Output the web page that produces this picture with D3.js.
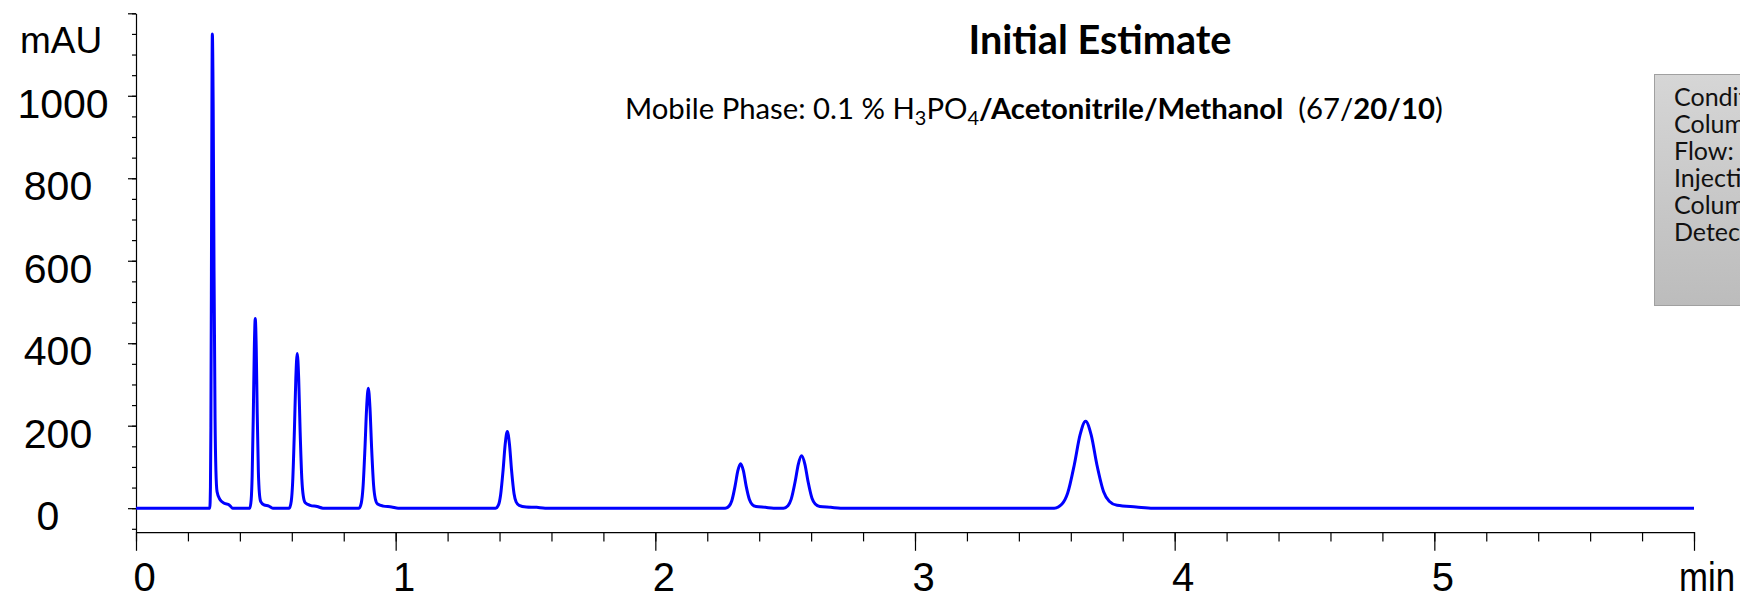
<!DOCTYPE html>
<html lang="en">
<head>
<meta charset="UTF-8" />
<title>Initial Estimate</title>
<style>
  body { margin: 0; background: #fff; }
  svg { display: block; }
  .num { font-family: 'Liberation Sans', Arial, sans-serif; fill: #000; }
  .cal { font-family: Lato, 'Open Sans', sans-serif; fill: #000; white-space: pre; }
  .axis path, .axis line { stroke: #000; stroke-width: 1.2; }
</style>
</head>
<body>
<svg id="svg" width="1740" height="596"></svg>
<script src="https://d3js.org/d3.v7.min.js"></script>
<script>
// chromatogram trace, [time (min), signal (mAU)]
const peak1 = [[0.2842,0],[0.2867,52],[0.2884,196],[0.2905,575],[0.2923,966],[0.294,1150],[0.2973,966],[0.3005,575],[0.3044,219],[0.3077,92],[0.3122,40],[0.3233,21],[0.3395,12],[0.359,8],[0.372,0]];
const peak2 = [[0.4383,0],[0.4436,21],[0.4473,78],[0.4518,230],[0.4556,386],[0.4593,460],[0.4631,386],[0.4668,230],[0.4713,87],[0.4751,37],[0.4803,16],[0.493,8],[0.5118,5],[0.5268,0]];
const peak3 = [[0.5902,0],[0.5979,17],[0.6034,64],[0.61,188],[0.6155,315],[0.621,375],[0.6265,315],[0.632,188],[0.6386,71],[0.6441,30],[0.6518,13],[0.6705,7],[0.698,4],[0.72,0]];
const peak4 = [[0.8588,0],[0.8677,13],[0.8741,49],[0.8818,146],[0.8882,244],[0.8946,291],[0.901,244],[0.9074,146],[0.9151,55],[0.9215,23],[0.9304,10],[0.9522,5],[0.9842,3],[1.0098,0]];
const peak5 = [[1.3846,0],[1.396,8],[1.4041,32],[1.4138,93],[1.4219,156],[1.43,186],[1.4381,156],[1.4462,93],[1.4559,35],[1.464,15],[1.4754,7],[1.5029,3],[1.5434,2],[1.5758,0]];
const peak6 = [[2.269,0],[2.2839,5],[2.2945,18],[2.3072,54],[2.3178,91],[2.3284,108],[2.339,91],[2.3496,54],[2.3623,21],[2.3729,9],[2.3878,4],[2.4238,2],[2.4556,0]];
const peak7 = [[2.4933,0],[2.5108,6],[2.5233,22],[2.5383,64],[2.5508,107],[2.5633,127],[2.5758,107],[2.5883,64],[2.6033,24],[2.6158,10],[2.6333,4],[2.6758,2],[2.7133,0]];
const peak8 = [[3.5358,0],[3.5661,10],[3.5877,36],[3.6137,106],[3.6354,177],[3.657,211],[3.6787,177],[3.7003,106],[3.7263,40],[3.748,17],[3.7782,7],[3.8519,3],[3.917,0]];
const runStart = [0, 0];
const runEnd = [6.0, 0];

const yLabels = [0, 200, 400, 600, 800, 1000];
const yMajor = [0, 200, 400, 600, 800, 1000, 1200];
const xLabels = [0, 1, 2, 3, 4, 5];
const xMajor = [0, 1, 2, 3, 4, 5, 6];

const conditions = ['Conditions:', 'Column:', 'Flow:', 'Injection:', 'Column temp.:', 'Detection:'];

const trace = [runStart, ...peak1, ...peak2, ...peak3, ...peak4, ...peak5, ...peak6, ...peak7, ...peak8, runEnd];

const svg = d3.select('#svg');

const x = d3.scaleLinear().domain([0, 6]).range([136, 1694]);
const y = d3.scaleLinear().domain([-58, 1200]).range([532.1, 13.3]);

// y axis: minor every 50, longer ticks every 200
svg.append('g').attr('class', 'axis').attr('transform', 'translate(136,0)')
  .call(d3.axisLeft(y).tickValues(d3.range(-50, 1201, 50)).tickSize(4).tickSizeOuter(0).tickFormat(''));
svg.append('g').attr('class', 'axis').attr('transform', 'translate(136,0)')
  .call(d3.axisLeft(y).tickValues(yMajor).tickSize(8).tickSizeOuter(0).tickFormat(''))
  .select('.domain').remove();

// x axis: minor every 0.2 min, long ticks each minute
svg.append('g').attr('class', 'axis').attr('transform', 'translate(0,532.1)')
  .call(d3.axisBottom(x).tickValues(d3.range(0, 6.01, 0.2)).tickSize(9.3).tickSizeOuter(0).tickFormat(''));
svg.append('g').attr('class', 'axis').attr('transform', 'translate(0,532.1)')
  .call(d3.axisBottom(x).tickValues(xMajor).tickSize(18.7).tickSizeOuter(0).tickFormat(''))
  .select('.domain').remove();

// labels sit a little off-centre, wider numbers further right
svg.selectAll('.ylab').data(yLabels).enter().append('text')
  .attr('class', 'num ylab')
  .attr('x', (d) => 58 + 5 * (String(d).length - 3))
  .attr('y', (d) => y(d) + 22)
  .attr('text-anchor', 'middle')
  .style('font-size', '41px')
  .text((d) => d);

svg.selectAll('.xlab').data(xLabels).enter().append('text')
  .attr('class', 'num xlab')
  .attr('x', (d) => x(d) + 8.5)
  .attr('y', 591)
  .attr('text-anchor', 'middle')
  .style('font-size', '40px')
  .text((d) => d);

svg.append('text').attr('class', 'num').attr('x', 20).attr('y', 53)
  .style('font-size', '37px').text('mAU');
svg.append('text').attr('class', 'num').attr('x', 1679).attr('y', 591)
  .attr('textLength', 56).attr('lengthAdjust', 'spacingAndGlyphs')
  .style('font-size', '40px').text('min');

// the trace
svg.append('path')
  .datum(trace)
  .attr('fill', 'none')
  .attr('stroke', '#0000ff')
  .attr('stroke-width', 3)
  .attr('stroke-linejoin', 'round')
  .attr('d', d3.line().x((d) => x(d[0])).y((d) => y(d[1])).curve(d3.curveMonotoneX));

// scale a text's font so it takes the width it has in the picture
function fit(t, w, start) {
  t.style('font-size', start + 'px');
  const bw = t.node().getComputedTextLength();
  t.style('font-size', (start * w) / bw + 'px');
}

const title = svg.append('text').attr('class', 'cal')
  .attr('x', 1100).attr('y', 54).attr('text-anchor', 'middle')
  .style('font-weight', 'bold').text('Initial Estimate');
fit(title, 263, 38);

const sub = svg.append('text').attr('class', 'cal').attr('x', 625).attr('y', 119);
sub.append('tspan').text('Mobile Phase: 0.1 % H');
sub.append('tspan').style('font-size', '0.68em').attr('dy', '0.3em').text('3');
sub.append('tspan').attr('dy', '-0.204em').text('PO');
sub.append('tspan').style('font-size', '0.68em').attr('dy', '0.3em').text('4');
sub.append('tspan').attr('dy', '-0.204em').style('font-weight', 'bold').text('/Acetonitrile/Methanol');
sub.append('tspan').text('  (67/');
sub.append('tspan').style('font-weight', 'bold').text('20/10');
sub.append('tspan').text(')');
fit(sub, 818, 28);

// conditions box, cut off by the right edge
const grad = svg.append('defs').append('linearGradient')
  .attr('id', 'boxfill').attr('x1', 0).attr('y1', 0).attr('x2', 0).attr('y2', 1);
grad.append('stop').attr('offset', '0%').attr('stop-color', '#d6d6d6');
grad.append('stop').attr('offset', '100%').attr('stop-color', '#bcbcbc');

svg.append('rect')
  .attr('x', 1654.5).attr('y', 74.5).attr('width', 120).attr('height', 231)
  .attr('fill', 'url(#boxfill)').attr('stroke', '#a0a0a0').attr('stroke-width', 1);

svg.selectAll('.cond').data(conditions).enter().append('text')
  .attr('class', 'cal cond')
  .attr('x', 1674)
  .attr('y', (d, i) => 106 + i * 27)
  .style('fill', '#111')
  .style('font-size', '25px')
  .text((d) => d);
</script>
</body>
</html>
